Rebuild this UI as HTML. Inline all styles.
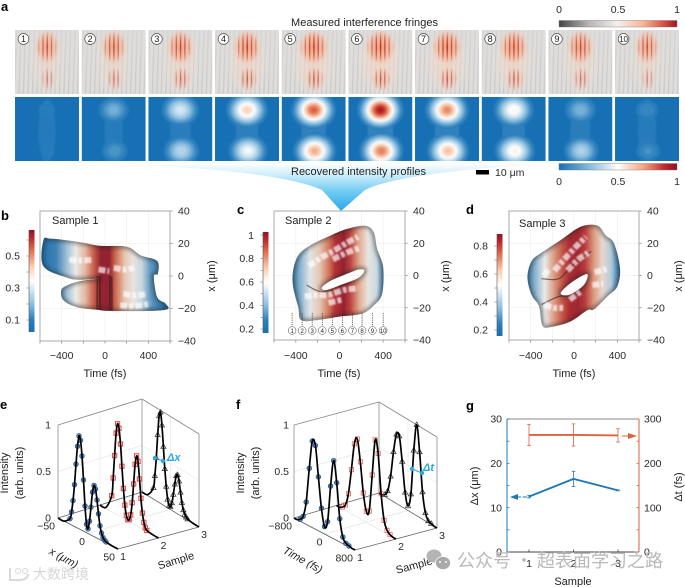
<!DOCTYPE html>
<html lang="en">
<head>
<meta charset="utf-8">
<title>Interference fringes and recovered intensity profiles</title>
<style>
html,body{margin:0;padding:0;background:#fff;width:685px;height:587px;overflow:hidden}
svg#figure{display:block;font-family:"Liberation Sans","Noto Sans CJK SC",sans-serif;fill:#222;filter:blur(.3px)}
.lt{font-size:13px;font-weight:700;fill:#000}
.t{font-size:10.5px;fill:#2a2a2a}
.l{font-size:11px;fill:#222}
</style>
</head>
<body>
<svg id="figure" xmlns="http://www.w3.org/2000/svg" width="685" height="587" viewBox="0 0 685 587">
<defs>
<linearGradient id="funnelGrad" x1="0" y1="163" x2="0" y2="211" gradientUnits="userSpaceOnUse">
<stop offset="0" stop-color="#ffffff"/><stop offset=".25" stop-color="#cdedfb"/><stop offset=".6" stop-color="#6fcaf2"/><stop offset="1" stop-color="#2aa9e6"/>
</linearGradient>
<radialGradient id="glow"><stop offset="0" stop-color="#f19a70"/><stop offset=".6" stop-color="#f6b596" stop-opacity=".7"/><stop offset="1" stop-color="#f6c9b2" stop-opacity="0"/></radialGradient>
<radialGradient id="glowFaint"><stop offset="0" stop-color="#f6d2be"/><stop offset=".7" stop-color="#f6dacb" stop-opacity=".55"/><stop offset="1" stop-color="#f7e0d4" stop-opacity="0"/></radialGradient>
<radialGradient id="maskGrad"><stop offset="0" stop-color="#fff"/><stop offset=".55" stop-color="#999"/><stop offset="1" stop-color="#000"/></radialGradient>
<pattern id="fringe" width="4.3" height="10" patternUnits="userSpaceOnUse"><rect x="1.5" width="1.3" height="10" fill="#b42a26"/></pattern>
<pattern id="bgFringe" width="4.5" height="10" patternUnits="userSpaceOnUse" patternTransform="skewX(-2)"><rect x="1" width="1.2" height="10" fill="#8f8f8f"/></pattern>
<linearGradient id="bgFade" x1="0" y1="0" x2="0" y2="1"><stop offset="0" stop-color="#fff" stop-opacity=".45"/><stop offset="1" stop-color="#fff" stop-opacity="1"/></linearGradient>
<mask id="bgMask" maskUnits="userSpaceOnUse" maskContentUnits="userSpaceOnUse" x="0" y="0" width="64" height="64"><rect width="64" height="64" fill="url(#bgFade)"/></mask>
<linearGradient id="barFringe" x1="0" y1="0" x2="1" y2="0">
<stop offset="0" stop-color="#444"/><stop offset=".25" stop-color="#b5b5b5"/><stop offset=".5" stop-color="#f4f0ec"/><stop offset=".72" stop-color="#f6b392"/><stop offset=".9" stop-color="#d34a3c"/><stop offset="1" stop-color="#9c1526"/>
</linearGradient>
<linearGradient id="barHeat" x1="0" y1="0" x2="1" y2="0">
<stop offset="0" stop-color="#1670b3"/><stop offset=".28" stop-color="#8fc0e0"/><stop offset=".5" stop-color="#fff"/><stop offset=".72" stop-color="#f3a27e"/><stop offset=".9" stop-color="#c0272d"/><stop offset="1" stop-color="#8f1226"/>
</linearGradient>
<filter id="b08" x="-30%" y="-30%" width="160%" height="160%"><feGaussianBlur stdDeviation="0.8"/></filter>
<filter id="b15" x="-30%" y="-30%" width="160%" height="160%"><feGaussianBlur stdDeviation="1.8"/></filter>
</defs>

<path d="M100 163 Q280 170 322 190 L341 211 L365 190 Q400 172 560 163 Z" fill="url(#funnelGrad)"/>
<g id="panelA"></g>
<g id="panels"></g>

<text class="lt" x="1" y="11">a</text>
<text class="lt" x="1" y="220">b</text>
<text class="lt" x="237" y="214">c</text>
<text class="lt" x="466" y="214">d</text>
<text class="lt" x="0" y="409">e</text>
<text class="lt" x="236" y="409">f</text>
<text class="lt" x="466" y="410">g</text>

<text class="l" x="291" y="26" font-size="11" textLength="147">Measured interference fringes</text>
<text class="l" x="291" y="175" textLength="135">Recovered intensity profiles</text>
<rect x="476" y="170" width="13" height="4.5" fill="#000"/>
<text class="t" x="495" y="176">10 μm</text>

<rect x="559" y="20.5" width="118" height="6.5" fill="url(#barFringe)" stroke="#777" stroke-width=".4"/>
<text class="t" x="559" y="13" text-anchor="middle">0</text>
<text class="t" x="618" y="13" text-anchor="middle">0.5</text>
<text class="t" x="677" y="13" text-anchor="middle">1</text>
<rect x="559" y="163.5" width="118" height="6.5" fill="url(#barHeat)" stroke="#777" stroke-width=".4"/>
<text class="t" x="559" y="185" text-anchor="middle">0</text>
<text class="t" x="618" y="185" text-anchor="middle">0.5</text>
<text class="t" x="677" y="185" text-anchor="middle">1</text>

<text class="l" x="52" y="224">Sample 1</text>
<text class="l" x="285" y="224">Sample 2</text>
<text class="l" x="519" y="227">Sample 3</text>
<text class="l" x="105" y="377" text-anchor="middle">Time (fs)</text>
<text class="l" x="339" y="377" text-anchor="middle">Time (fs)</text>
<text class="l" x="574" y="377" text-anchor="middle">Time (fs)</text>
<text class="l" text-anchor="middle" transform="translate(215,276) rotate(-90)">x (μm)</text>
<text class="l" text-anchor="middle" transform="translate(449,276) rotate(-90)">x (μm)</text>
<text class="l" text-anchor="middle" transform="translate(682,276) rotate(-90)">x (μm)</text>

<text class="l" text-anchor="middle" transform="translate(8,473) rotate(-90)">Intensity</text>
<text class="l" text-anchor="middle" transform="translate(23,473) rotate(-90)">(arb. units)</text>
<text class="l" text-anchor="middle" transform="translate(244,473) rotate(-90)">Intensity</text>
<text class="l" text-anchor="middle" transform="translate(259,473) rotate(-90)">(arb. units)</text>
<text class="l" text-anchor="middle" font-style="italic" transform="translate(62,561) rotate(29)">x (μm)</text>
<text class="l" text-anchor="middle" transform="translate(177,564) rotate(-17)">Sample</text>
<text class="l" text-anchor="middle" font-style="italic" transform="translate(301,563) rotate(29)">Time (fs)</text>
<text class="l" text-anchor="middle" transform="translate(415,569) rotate(-15)">Sample</text>
<text font-size="11" font-style="italic" font-weight="700" fill="#2aa9e0" x="167" y="461">Δx</text>
<text font-size="11" font-style="italic" font-weight="700" fill="#2aa9e0" x="423" y="471">Δt</text>

<text class="l" text-anchor="middle" x="573" y="585">Sample</text>
<text class="l" text-anchor="middle" transform="translate(478,486) rotate(-90)">Δx (μm)</text>
<text class="l" text-anchor="middle" transform="translate(682,487) rotate(-90)">Δt (fs)</text>

<g opacity=".9">
<circle cx="18" cy="571" r="2.5" fill="none" stroke="#d4d4d4"/><circle cx="25" cy="571" r="2.5" fill="none" stroke="#d4d4d4"/>
<path d="M10 568 V580 H18 Q28 580 28 574" fill="none" stroke="#d4d4d4" stroke-width="2"/>
<text x="33" y="579" font-size="14" fill="#d2d2d2" font-family="'Noto Sans CJK SC',sans-serif">大数跨境</text>
</g>
<g>
<ellipse cx="434" cy="556" rx="7.5" ry="6.5" fill="#b4b4b4"/><ellipse cx="443" cy="563" rx="7.5" ry="6.5" fill="#a8a8a8" stroke="#fff" stroke-width=".7"/>
<circle cx="440" cy="562" r="1" fill="#fff"/><circle cx="446" cy="562" r="1" fill="#fff"/>
<text x="457" y="567" font-size="18" fill="#b9b9b9" font-family="'Noto Sans CJK SC',sans-serif" textLength="206">公众号 · 超表面学习之路</text>
</g>
</svg>

<script>
const NS = 'http://www.w3.org/2000/svg';
const panelA = document.getElementById('panelA');
const root = document.getElementById('panels');
const defs = document.querySelector('#figure defs');

/* ---------- panel a data ---------- */
const frameLabels = ['1','2','3','4','5','6','7','8','9','10'];
const fringeTop = [.55,.62,.72,.82,.95,1,.95,.82,.68,.55];
const fringeBottom = [.35,.45,.6,.68,.75,.78,.72,.68,.5,.3];
const recoveredTop = [.13,.26,.44,.64,.85,.98,.78,.55,.27,.17];
const recoveredBottom = [.12,.2,.38,.5,.72,.8,.68,.56,.36,.18];

/* ---------- panels b-d data (time fs, x um) ---------- */
const outlineB = [[-569,22],[-507,23],[-352,22],[-198,20.4],[-43,18.6],[204,18],[328,12.8],[482,9.3],[488,1.4],[451,-.2],[482,-13],[559,-17],[544,-21],[65,-21.6],[-74,-20.8],[-260,-19.2],[-383,-15],[-405,-8.9],[-352,-5.8],[-229,-3.1],[-59,-1.6],[-229,-2.3],[-352,-1],[-569,6]];
const outlineC = [[-425,3.1],[-378,12.4],[-271,18.6],[-86,24.7],[68,28.9],[237,30.9],[314,26.8],[345,16.5],[400,5.2],[391,-11.3],[314,-18.6],[206,-23.7],[6,-25.4],[-178,-27.4],[-348,-27.8],[-378,-19.6],[-425,-7.2]];
const holeC = [[-163,-7.6],[-86,-3.5],[68,1],[175,3.7],[228,3.1],[175,-1.4],[37,-5.2],[-117,-8.9]];
const outlineD = [[-425,2.5],[-385,9.7],[-308,13.8],[-123,22],[62,30.3],[215,31],[292,25],[369,20],[425,4.5],[400,-6.8],[308,-13],[185,-21],[123,-21.6],[-31,-28.5],[-215,-32],[-292,-31],[-323,-19],[-385,-13],[-425,-4.7]];
const holeD = [[-123,-11],[-31,-4.7],[108,.8],[123,-1.6],[77,-6.8],[-46,-12]];

const profileTimes = [-570,-450,-350,-270,-180,-100,-40,40,100,180,260,340,420,560];
const profileB = [.03,.14,.34,.5,.66,.84,.98,.98,.8,.62,.52,.42,.2,.04];
const profileC = [.0,.06,.3,.48,.62,.78,.92,.98,.88,.68,.52,.43,.1,.02];
const profileD = [.0,.08,.3,.5,.72,.86,.94,.96,.9,.72,.56,.38,.1,.02];

const highlightsB = [
 [[-330,10],[-220,9.5],[-110,10]],
 [[80,5],[180,4],[270,5]],
 [[170,-11],[280,-12],[390,-11]],
 [[140,-18],[280,-18.5],[420,-17]],
 [[-60,4],[40,3]]
];
const foldsB = [[[-70,0],[-72,-21]],[[-48,0],[-46,-21]],[[45,0],[45,-21]],[[62,0],[64,-21]]];
const highlightsC = [
 [[-280,6],[-170,11],[-60,15],[60,20],[170,24]],
 [[-60,10],[60,14],[180,17]],
 [[-320,-13],[-210,-12],[-100,-12],[40,-9],[170,-8]],
 [[-100,-17],[20,-15]]
];
const foldsC = [[[-300,-6],[-180,-10],[-60,-9]]];
const highlightsD = [
 [[-280,0],[-230,4]],
 [[-180,3],[-90,10],[20,18],[110,24]],
 [[-60,3],[40,10],[130,14]],
 [[190,2],[300,4]],
 [[-270,-18],[-190,-20],[-100,-20]],
 [[-40,-15],[60,-10]],
 [[170,-6],[270,-5]]
];
const foldsD = [[[-300,-2],[-140,-2],[-20,6],[160,15]],[[-300,-18],[-140,-13],[-30,-13]]];

const timeTicks = [-600,-400,-200,0,200,400,600];
const timeLabels = [-400,0,400];
const xTicks = [-40,-20,0,20,40];
const cbarB = {ticks:[.1,.3,.5], minor:[.2,.4,.6], lo:.025, hi:.6625};
const cbarC = {ticks:[.2,.4,.6,.8,1], minor:[.3,.5,.7,.9], lo:.166, hi:1.026};
const cbarD = {ticks:[.2,.4,.6,.8], minor:[.3,.5,.7], lo:.157, hi:.886};
const frameTimes = [-434,-342,-250,-158,-66,26,118,207,302,400];

/* ---------- panels e-f data ---------- */
const positionE = [-50,-40,-30,-27.5,-25,-22.5,-20,-17.5,-15,-12.5,-10,-7.5,-5,-2.5,0,2.5,5,7.5,10,12.5,15,17.5,20,22.5,25,27.5,30,40,50];
const e1 = [0,0,.06,.14,.27,.45,.68,.88,1,.96,.8,.55,.28,.09,.05,.14,.3,.47,.55,.52,.41,.27,.15,.08,.04,.02,.01,0,0];
const e2 = [0,.01,.17,.37,.62,.87,.98,.94,.78,.55,.32,.15,.05,.01,.02,.08,.22,.43,.65,.75,.7,.52,.32,.17,.08,.03,.01,0,0];
const e3 = [0,.01,.12,.26,.46,.72,.93,.98,.85,.63,.4,.22,.09,.03,.03,.08,.18,.3,.4,.42,.36,.25,.15,.08,.04,.02,.01,0,0];
const timeF = [-800,-720,-640,-560,-480,-400,-320,-240,-160,-80,0,80,160,240,320,400,480,560,640,720,800];
const f1 = [0,0,.02,.07,.24,.62,.93,.9,.58,.26,.08,.15,.55,.84,.62,.25,.07,.02,.01,0,0];
const f2 = [0,0,.02,.06,.2,.48,.78,.85,.62,.3,.12,.14,.55,.95,.82,.4,.13,.04,.01,0,0];
const f3 = [0,0,.02,.08,.26,.55,.76,.76,.5,.18,.05,.2,.7,1,.72,.3,.09,.02,.01,0,0];
const intensityTicks = ['0','0.5','1'];

/* ---------- panel g data ---------- */
const samples = [1,2,3];
const deltaX = [12.5,16.5,13.9];
const deltaXErr = [.3,1.7,.1];
const deltaT = [264,264,263];
const deltaTErr = [24,25,15];
const leftTicks = [0,5,10,15,20,25,30];
const rightTicks = [0,50,100,150,200,250,300];
const leftLabels = [0,10,20,30];
const rightLabels = [0,100,200,300];

/* ---------- helpers ---------- */
function make(parent, tag, attrs, text) {
  const e = document.createElementNS(NS, tag);
  for (const k in attrs) e.setAttribute(k, attrs[k]);
  if (text !== undefined) e.textContent = text;
  parent.appendChild(e);
  return e;
}
const heatStops = [[0,[22,112,179]],[.12,[43,127,188]],[.28,[143,192,224]],[.5,[255,255,255]],[.65,[249,201,172]],[.8,[224,112,79]],[.92,[192,39,45]],[1,[143,18,38]]];
function heat(v) {
  v = Math.max(0, Math.min(1, v));
  for (let i = 1; i < heatStops.length; i++) {
    if (v <= heatStops[i][0]) {
      const a = heatStops[i-1], b = heatStops[i], f = (v-a[0])/(b[0]-a[0]);
      return 'rgb(' + a[1].map((c,j) => Math.round(c+(b[1][j]-c)*f)).join(',') + ')';
    }
  }
  return 'rgb(143,18,38)';
}
function spline(pts, closed) {
  const n = pts.length;
  const at = i => closed ? pts[(i+n)%n] : pts[Math.max(0, Math.min(n-1, i))];
  let d = 'M' + pts[0][0].toFixed(1) + ' ' + pts[0][1].toFixed(1);
  const last = closed ? n : n-1;
  for (let i = 0; i < last; i++) {
    const p0 = at(i-1), p1 = at(i), p2 = at(i+1), p3 = at(i+2);
    d += 'C' + (p1[0]+(p2[0]-p0[0])/6).toFixed(1) + ' ' + (p1[1]+(p2[1]-p0[1])/6).toFixed(1) + ' ' +
         (p2[0]-(p3[0]-p1[0])/6).toFixed(1) + ' ' + (p2[1]-(p3[1]-p1[1])/6).toFixed(1) + ' ' +
         p2[0].toFixed(1) + ' ' + p2[1].toFixed(1);
  }
  return d + (closed ? 'Z' : '');
}

/* ---------- panel a ---------- */
frameLabels.forEach((lab, i) => {
  const left = 15 + i * 66.67;
  const top = make(panelA, 'svg', {x:left, y:30, width:64, height:64, viewBox:'0 0 64 64'});
  
  
  const rxTop = 7 + 7 * fringeTop[i], rxBot = 5 + 6 * fringeBottom[i];
  const mt = make(defs, 'mask', {id:'maskTop'+i, maskUnits:'userSpaceOnUse', maskContentUnits:'userSpaceOnUse', x:0, y:0, width:64, height:64});
  make(mt, 'ellipse', {cx:32, cy:17, rx:rxTop, ry:16, fill:'url(#maskGrad)'});
  const mb = make(defs, 'mask', {id:'maskBot'+i, maskUnits:'userSpaceOnUse', maskContentUnits:'userSpaceOnUse', x:0, y:0, width:64, height:64});
  make(mb, 'ellipse', {cx:33, cy:49, rx:rxBot, ry:12, fill:'url(#maskGrad)'});
  make(top, 'rect', {width:64, height:64, fill:'#dedddb'});
  make(top, 'rect', {width:64, height:64, fill:'url(#bgFringe)', opacity:.26, mask:'url(#bgMask)'});
  make(top, 'ellipse', {cx:32, cy:33, rx:14+8*fringeTop[i], ry:33, fill:'url(#glowFaint)', opacity:fringeTop[i]*.75});
  make(top, 'ellipse', {cx:32, cy:17, rx:rxTop+3, ry:19, fill:'url(#glow)', opacity:.5+.45*fringeTop[i]});
  make(top, 'ellipse', {cx:33, cy:49, rx:rxBot+2, ry:13, fill:'url(#glow)', opacity:fringeBottom[i]*.5});
  make(top, 'rect', {width:64, height:64, fill:'url(#fringe)', mask:'url(#maskTop'+i+')', opacity:.55+.45*fringeTop[i]});
  make(top, 'rect', {width:64, height:64, fill:'url(#fringe)', mask:'url(#maskBot'+i+')', opacity:.3+.6*fringeBottom[i]});
  const num = make(panelA, 'g', {});
  
  
  make(num, 'circle', {cx:left+8.5, cy:39, r:5.4, fill:'#fff', stroke:'#333', 'stroke-width':.6});
  make(num, 'text', {x:left+8.5, y:42.2, 'text-anchor':'middle', 'font-size':lab.length>1?8:9, fill:'#222'}, lab);

  const bot = make(panelA, 'svg', {x:left, y:97, width:64, height:64, viewBox:'0 0 64 64'});
  
  
  make(bot, 'rect', {width:64, height:64, fill:heat(0)});
  const g = make(bot, 'g', {filter:'url(#b08)'});
  make(g, 'ellipse', {cx:32, cy:34, rx:8+6*recoveredBottom[i], ry:32, fill:'#6fabd8', opacity:.14+.22*recoveredBottom[i]});
  [[recoveredTop[i],32,13],[recoveredBottom[i],33,54]].forEach(b => {
    for (let L = .1; L < b[0]; L += .035) {
      const r = Math.sqrt(2*Math.log(b[0]/L));
      make(g, 'ellipse', {cx:b[1], cy:b[2], rx:11*r, ry:9.5*r, fill:heat(L)});
    }
  });
});

/* ---------- panels b-d ---------- */
function surfacePanel(c) {
  const X = t => c.x0 + (t+600)/1200*(c.x1-c.x0);
  const Y = v => c.y1 - (v+40)/80*(c.y1-c.y0);
  const P = p => [X(p[0]), Y(p[1])];
  const g = make(root, 'g', {});
  
  

  timeTicks.forEach(t => {
    make(g, 'line', {x1:X(t), x2:X(t), y1:c.y0, y2:c.y1, stroke:'#efefef', 'stroke-width':.7});
    make(g, 'line', {x1:X(t), x2:X(t), y1:c.y1, y2:c.y1+2.5, stroke:'#777', 'stroke-width':.7});
  });
  xTicks.forEach(v => {
    make(g, 'line', {x1:c.x0, x2:c.x1, y1:Y(v), y2:Y(v), stroke:'#efefef', 'stroke-width':.7});
    make(g, 'line', {x1:c.x1, x2:c.x1+2.5, y1:Y(v), y2:Y(v), stroke:'#777', 'stroke-width':.7});
    const lab = make(g, 'text', {class:'t', x:c.x1+8, y:Y(v)+3.7}, String(v).replace('-', '\u2212'));
    
    
  });
  make(g, 'rect', {x:c.x0, y:c.y0, width:c.x1-c.x0, height:c.y1-c.y0, fill:'none', stroke:'#a8a8a8', 'stroke-width':1});
  timeLabels.forEach(t => {
    const lab = make(g, 'text', {class:'t', x:X(t), y:359, 'text-anchor':'middle'}, String(t).replace('-', '\u2212'));
    
    
  });

  const grad = make(defs, 'linearGradient', {id:c.id+'Grad', gradientUnits:'userSpaceOnUse', x1:X(-570), x2:X(560), y1:0, y2:0});
  profileTimes.forEach((t, i) => make(grad, 'stop', {offset:(t+570)/1130, 'stop-color':heat(c.profile[i])}));

  let d = spline(c.outline.map(P), true);
  if (c.hole) d += spline(c.hole.map(P), true);
  const clip = make(defs, 'clipPath', {id:c.id+'Clip'});
  make(clip, 'path', {d:d, 'clip-rule':'evenodd'});

  const s = make(g, 'g', {'clip-path':'url(#'+c.id+'Clip)'});
  
  
  make(s, 'path', {d:d, 'fill-rule':'evenodd', fill:'url(#'+c.id+'Grad)'});
  make(s, 'rect', {x:c.x0, y:c.y0, width:c.x1-c.x0, height:c.y1-c.y0, fill:'#6a6a6a', opacity:.14});
  const edge = make(s, 'g', {filter:'url(#b15)'});
  make(edge, 'path', {d:d, fill:'none', stroke:'#1f1f1f', 'stroke-width':5, opacity:.45});
  c.folds.forEach(f => make(s, 'path', {d:spline(f.map(P)), fill:'none', stroke:'#3a1a1a', 'stroke-width':c.foldWidth, opacity:.6}));
  const hi = make(s, 'g', {filter:'url(#b08)'});
  c.highlights.forEach(h => make(hi, 'path', {d:spline(h.map(P)), fill:'none', stroke:'#fff', 'stroke-width':6, 'stroke-dasharray':'7 2 4 2', opacity:.68}));

  const b = c.bar, YB = v => b.y1 - (v-b.lo)/(b.hi-b.lo)*(b.y1-b.y0);
  const bg = make(defs, 'linearGradient', {id:c.id+'Bar', x1:0, y1:1, x2:0, y2:0});
  [0,.12,.28,.5,.65,.8,.92,1].forEach(v => make(bg, 'stop', {offset:v, 'stop-color':heat(v)}));
  const bar = make(g, 'rect', {x:b.x, y:b.y0, width:5.5, height:b.y1-b.y0, fill:'url(#'+c.id+'Bar)'});
  
  
  make(g, 'line', {x1:b.x, x2:b.x, y1:b.y0, y2:b.y1, stroke:'#555', 'stroke-width':.6});
  b.data.minor.concat(b.data.ticks).forEach(v => make(g, 'line', {x1:b.x-2.5, x2:b.x, y1:YB(v), y2:YB(v), stroke:'#777', 'stroke-width':.6}));
  b.data.ticks.forEach(v => {
    const lab = make(g, 'text', {class:'t', x:b.x-9, y:YB(v)+3.7, 'text-anchor':'end'}, String(v));
    
    
  });
  return {X, Y, g};
}
function bar(x, y0, y1, lo, hi, ticks, minor) { return {x, y0, y1, lo, hi, data:{ticks, minor}}; }
surfacePanel({id:'b', name:'panel-b-sample-1', x0:40, x1:170, y0:211, y1:341, outline:outlineB, profile:profileB, highlights:highlightsB, folds:foldsB, foldWidth:1.8,
  bar:bar(29,230,332,cbarB.lo,cbarB.hi,cbarB.ticks,cbarB.minor)});
const pc = surfacePanel({id:'c', name:'panel-c-sample-2', x0:274, x1:405, y0:211, y1:340, outline:outlineC, hole:holeC, profile:profileC, highlights:highlightsC, folds:foldsC, foldWidth:1.2,
  bar:bar(263,232,333,cbarC.lo,cbarC.hi,cbarC.ticks,cbarC.minor)});
surfacePanel({id:'d', name:'panel-d-sample-3', x0:509, x1:639, y0:211, y1:340, outline:outlineD, hole:holeD, profile:profileD, highlights:highlightsD, folds:foldsD, foldWidth:1.2,
  bar:bar(497,234,336,cbarD.lo,cbarD.hi,cbarD.ticks,cbarD.minor)});

frameTimes.forEach((t, i) => {
  const m = make(pc.g, 'g', {});
  
  
  make(m, 'line', {x1:pc.X(t), x2:pc.X(t), y1:313, y2:326, stroke:'#333', 'stroke-width':.7, 'stroke-dasharray':'1.2 1'});
  make(m, 'circle', {cx:pc.X(t), cy:330.5, r:3.9, fill:'#fff', stroke:'#444', 'stroke-width':.5});
  make(m, 'text', {x:pc.X(t), y:332.8, 'text-anchor':'middle', 'font-size':6, fill:'#222'}, frameLabels[i]);
});

/* ---------- panels e-f ---------- */
function linePanel(c) {
  const P = (a, s, I) => {
    const u = (a-c.amin)/(c.amax-c.amin), v = (s-1)/2;
    return [c.o[0]+u*c.U[0]+v*c.V[0]+u*v*c.W[0],
            c.o[1]+u*c.U[1]+v*c.V[1]+u*v*c.W[1]-I*(c.h0+(c.h1-c.h0)*v)];
  };
  const g = make(root, 'g', {});
  
  
  const L = (a, b, col, w) => make(g, 'line', {x1:a[0], y1:a[1], x2:b[0], y2:b[1], stroke:col, 'stroke-width':w});
  const A0 = c.amin, A1 = c.amax;
  /* faint grid */
  L(P(A0,2,0), P(A0,2,1), '#e8e8e8', .7);
  L(P(A0,1,.5), P(A0,3,.5), '#e8e8e8', .7);
  L(P(A0,3,.5), P(A1,3,.5), '#e8e8e8', .7);
  L(P(0,3,0), P(0,3,1), '#e8e8e8', .7);
  L(P(A0,2,0), P(A1,2,0), '#e4e4e4', .7);
  L(P(0,1,0), P(0,3,0), '#e4e4e4', .7);
  /* box */
  L(P(A0,1,0), P(A0,1,1), '#999', .9);
  L(P(A0,1,1), P(A0,3,1), '#888', .9);
  L(P(A0,3,1), P(A1,3,1), '#888', .9);
  L(P(A1,3,1), P(A1,3,0), '#999', .9);
  L(P(A0,3,1), P(A0,3,0), '#999', .9);
  L(P(A0,1,0), P(A0,3,0), '#666', .8);
  L(P(A0,3,0), P(A1,3,0), '#666', .8);
  L(P(A1,3,0), P(A1,1,0), '#666', .8);
  L(P(A1,1,0), P(A0,1,0), '#555', .8);

  [[3,c.s3,'tri'],[2,c.s2,'sq'],[1,c.s1,'dot']].forEach(([s, vals, kind]) => {
    const sg = make(g, 'g', {});
    
    
    const pts = c.axis.map((a, i) => P(a, s, vals[i]));
    c.axis.forEach((a, i) => {
      if (a < c.markLo || a > c.markHi) return;
      const [x, y] = pts[i];
      if (kind === 'dot') make(sg, 'circle', {cx:x, cy:y, r:2.4, fill:'#5a8dc0', stroke:'#1d4f7d', 'stroke-width':.6});
      if (kind === 'sq') make(sg, 'rect', {x:x-2.1, y:y-2.1, width:4.2, height:4.2, fill:'none', stroke:'#ea4f4f', 'stroke-width':c.markStroke});
      if (kind === 'tri') make(sg, 'path', {d:'M'+x+' '+(y-2.8)+'l2.6 4.6h-5.2z', fill:'none', stroke:'#333', 'stroke-width':.7});
    });
    const line = make(sg, 'path', {d:spline(pts), fill:'none', stroke:'#000', 'stroke-width':1.7});
    
    
  });

  intensityTicks.forEach(v => {
    const p = P(A0, 1, +v);
    const lab = make(g, 'text', {class:'t', x:p[0]-c.iOff, y:p[1]+3.5, 'text-anchor':'end'}, v);
    
    
  });
  c.depthTicks.forEach(a => {
    const p = P(a, 1, 0);
    const lab = make(g, 'text', {class:'t', x:p[0]-c.dOff, y:p[1]+11.5, 'text-anchor':'end'}, String(a).replace('-', '\u2212'));
    
    
  });
  samples.forEach(s => {
    const p = P(A1, s, 0);
    const lab = make(g, 'text', {class:'t', x:p[0]+5, y:p[1]+11, 'text-anchor':'middle'}, String(s));
    
    
  });
}
linePanel({name:'panel-e-spatial-profiles', axis:positionE, amin:-50, amax:50, markLo:-30, markHi:30, markStroke:1.1, o:[58,518], U:[60,31], V:[84,-26], W:[-3,4], h0:93, h1:93,
  s1:e1, s2:e2, s3:e3, depthTicks:[-50,0,50], iOff:7, dOff:3});
linePanel({name:'panel-f-temporal-profiles', axis:timeF, amin:-800, amax:800, markLo:-640, markHi:640, markStroke:.7, o:[294,518], U:[61,32], V:[85,-25], W:[-3,3], h0:93, h1:91,
  s1:f1, s2:f2, s3:f3, depthTicks:[-800,0,800], iOff:5, dOff:2});

/* delta arrows */
[[155,458,163,461,'delta-x-arrow'],[412,469,422,473,'delta-t-arrow']].forEach(a => {
  const g = make(root, 'g', {});
  
  
  make(g, 'line', {x1:a[0], y1:a[1], x2:a[2], y2:a[3], stroke:'#2aa9e0', 'stroke-width':1});
  make(g, 'circle', {cx:a[0], cy:a[1], r:2.2, fill:'#2aa9e0'});
  make(g, 'circle', {cx:a[2], cy:a[3], r:2.2, fill:'#2aa9e0'});
});

/* ---------- panel g ---------- */
(function () {
  const blue = '#1f78b4', orange = '#d9633a';
  const x0 = 507, x1 = 639, y0 = 419, y1 = 552;
  const XS = s => 529 + (s-1)*44.5;
  const YL = v => y1 - v/30*(y1-y0);
  const YR = v => y1 - v/300*(y1-y0);
  const g = make(root, 'g', {});
  
  
  make(g, 'line', {x1:x0, x2:x1, y1:y0, y2:y0, stroke:'#888', 'stroke-width':1});
  make(g, 'line', {x1:x0, x2:x1, y1:y1, y2:y1, stroke:'#444', 'stroke-width':1});
  make(g, 'line', {x1:x0, x2:x0, y1:y0, y2:y1, stroke:blue, 'stroke-width':1});
  make(g, 'line', {x1:x1, x2:x1, y1:y0, y2:y1, stroke:orange, 'stroke-width':1});
  leftTicks.forEach(v => make(g, 'line', {x1:x0, x2:x0+2.5, y1:YL(v), y2:YL(v), stroke:blue, 'stroke-width':.8}));
  rightTicks.forEach(v => make(g, 'line', {x1:x1-2.5, x2:x1, y1:YR(v), y2:YR(v), stroke:orange, 'stroke-width':.8}));
  samples.forEach(s => {
    make(g, 'line', {x1:XS(s), x2:XS(s), y1:y1, y2:y1-2.5, stroke:'#444', 'stroke-width':.8});
    const lab = make(g, 'text', {class:'t', x:XS(s), y:567, 'text-anchor':'middle'}, String(s));
    
    
  });
  leftLabels.forEach(v => {
    const lab = make(g, 'text', {class:'t', x:x0-5, y:YL(v)+3.7, 'text-anchor':'end'}, String(v));
    
    
  });
  rightLabels.forEach(v => {
    const lab = make(g, 'text', {class:'t', x:x1+5, y:YR(v)+3.7}, String(v));
    
    
  });
  function series(vals, errs, Y, col, name) {
    const sg = make(g, 'g', {});
    
    
    samples.forEach((s, i) => {
      const x = XS(s), a = Y(vals[i]-errs[i]), b = Y(vals[i]+errs[i]);
      make(sg, 'line', {x1:x, x2:x, y1:a, y2:b, stroke:col, 'stroke-width':.8});
      make(sg, 'line', {x1:x-1.8, x2:x+1.8, y1:a, y2:a, stroke:col, 'stroke-width':.8});
      make(sg, 'line', {x1:x-1.8, x2:x+1.8, y1:b, y2:b, stroke:col, 'stroke-width':.8});
    });
    make(sg, 'polyline', {points:samples.map((s, i) => XS(s)+','+Y(vals[i])).join(' '), fill:'none', stroke:col, 'stroke-width':1.9});
  }
  series(deltaX, deltaXErr, YL, blue, 'delta-x-series');
  series(deltaT, deltaTErr, YR, orange, 'delta-t-series');
  const ab = make(g, 'g', {});
  
  
  make(ab, 'line', {x1:516, x2:527, y1:497, y2:497, stroke:blue, 'stroke-width':1, 'stroke-dasharray':'5 1.5'});
  make(ab, 'path', {d:'M510 497l8-3v6z', fill:blue});
  const ao = make(g, 'g', {});
  
  
  make(ao, 'line', {x1:622, x2:630, y1:436, y2:436, stroke:orange, 'stroke-width':1});
  make(ao, 'path', {d:'M637 436l-9-3v6z', fill:orange});
})();
</script>
</body>
</html>
